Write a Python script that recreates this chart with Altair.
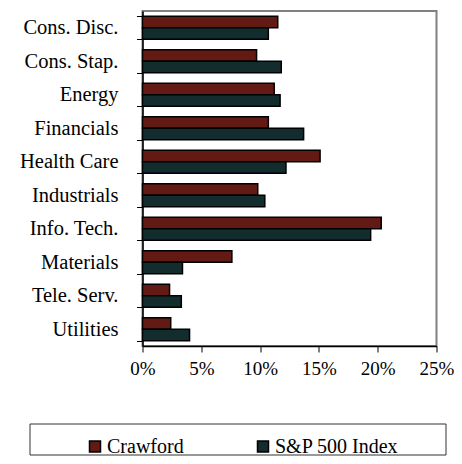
import altair as alt
import pandas as pd

sectors = ["Cons. Disc.", "Cons. Stap.", "Energy", "Financials", "Health Care",
           "Industrials", "Info. Tech.", "Materials", "Tele. Serv.", "Utilities"]
series = ["Crawford", "S&P 500 Index"]
crawford = [11.5, 9.7, 11.2, 10.7, 15.1, 9.8, 20.3, 7.6, 2.3, 2.4]
sp500 = [10.7, 11.8, 11.7, 13.7, 12.2, 10.4, 19.4, 3.4, 3.3, 4.0]
x_ticks = [0, 5, 10, 15, 20, 25]

rows = []
for s, c, p in zip(sectors, crawford, sp500):
    rows.append({"sector": s, "series": series[0], "value": c})
    rows.append({"sector": s, "series": series[1], "value": p})
df = pd.DataFrame(rows)

FONT = "Liberation Serif"
RED = "#631A15"
TEAL = "#132D2F"

bars = alt.Chart(df).mark_bar(stroke="black", strokeWidth=1.5).encode(
    x=alt.X("value:Q",
            scale=alt.Scale(domain=[0, 25], nice=False, zero=True),
            axis=alt.Axis(values=x_ticks, labelExpr="datum.value + '%'", title=None,
                          grid=False, tickSize=6, labelPadding=7, labelFont=FONT,
                          labelFontSize=19, labelColor="black", domainColor="black",
                          tickColor="black", labelFlush=False, domainWidth=1.5)),
    y=alt.Y("sector:N", sort=sectors,
            scale=alt.Scale(paddingInner=0.31, paddingOuter=0.155),
            axis=alt.Axis(title=None, tickBand="extent", tickSize=6, labelPadding=18.5,
                          labelFont=FONT, labelFontSize=20.5, labelColor="black",
                          domainColor="black", tickColor="black", domainWidth=1.5)),
    yOffset=alt.YOffset("series:N", sort=series),
    color=alt.Color("series:N", sort=series,
                    scale=alt.Scale(domain=series, range=[RED, TEAL]),
                    legend=alt.Legend(orient="none", legendX=-57.5, legendY=425.5,
                                      direction="horizontal", title=None,
                                      symbolType="square", symbolSize=121,
                                      symbolStrokeColor="black", symbolStrokeWidth=1.5,
                                      labelFont=FONT, labelFontSize=20, labelColor="black",
                                      columnPadding=69, labelOffset=2, padding=0)),
)

frame = alt.Chart(pd.DataFrame({"a": [0]})).mark_rect(
    fillOpacity=0, stroke="#333333", strokeWidth=1
).encode(
    x=alt.value(-112.5), x2=alt.value(303.5), y=alt.value(413), y2=alt.value(444)
)

chart = alt.layer(bars, frame).properties(
    width=294, height=335,
    autosize=alt.AutoSizeParams(type="none"),
    padding={"left": 134.5, "top": 3, "right": 17.5, "bottom": 110},
).configure_view(stroke="#808080", strokeWidth=2)

chart.save("out.html", embed_options={"renderer": "svg", "actions": False})
